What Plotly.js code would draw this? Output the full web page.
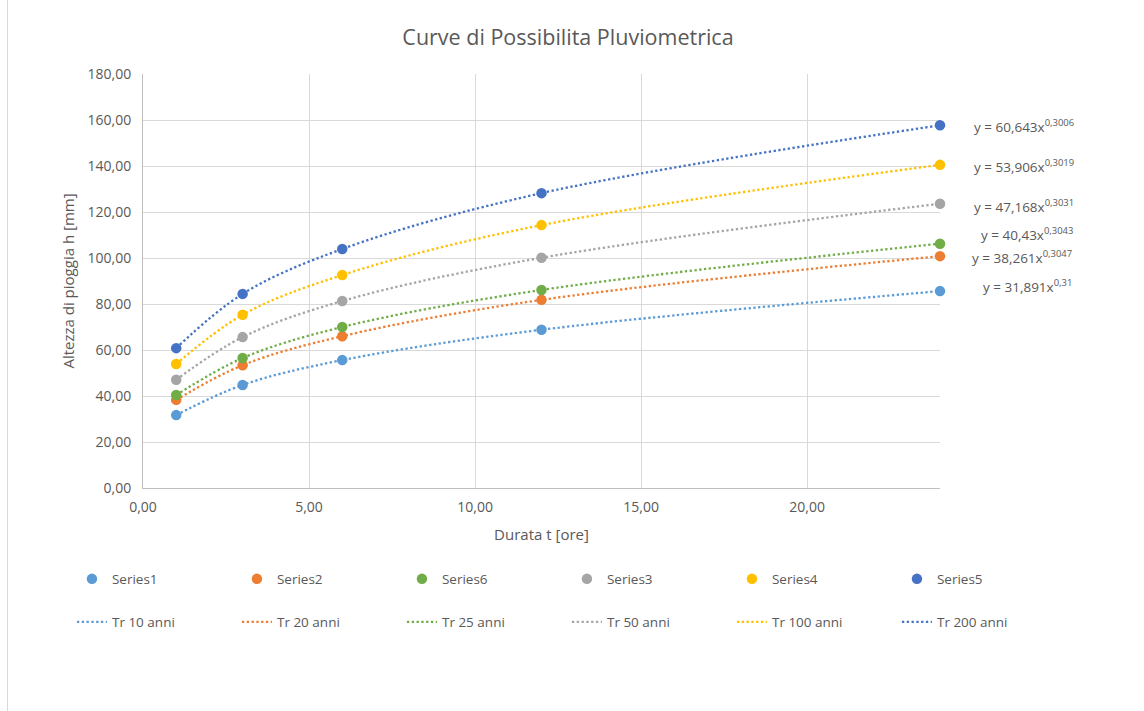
<!DOCTYPE html>
<html>
<head>
<meta charset="utf-8">
<script src="https://cdn.plot.ly/plotly-3.0.1.min.js"></script>
<style>
  html, body { margin: 0; padding: 0; background: #ffffff; }
  #frame { position: absolute; left: 7px; top: 0; width: 1137px; height: 711px; border-left: 1px solid #d9d9d9; }
  #chart { position: absolute; left: 0; top: 0; width: 1144px; height: 711px; }
</style>
</head>
<body>
<div id="frame"></div>
<div id="chart"></div>
<script>
// ---- data ----
const durations = [1, 3, 6, 12, 24];
const series1 = [31.7, 44.8, 55.6, 68.8, 85.6];
const series2 = [38.3, 53.4, 66.0, 81.8, 100.8];
const series6 = [40.4, 56.5, 70.0, 86.1, 106.2];
const series3 = [47.1, 65.6, 81.3, 100.1, 123.6];
const series4 = [53.9, 75.3, 92.6, 114.3, 140.5];
const series5 = [60.8, 84.4, 103.9, 128.2, 157.7];

const markerNames = ['Series1', 'Series2', 'Series6', 'Series3', 'Series4', 'Series5'];
const trendNames = ['Tr 10 anni', 'Tr 20 anni', 'Tr 25 anni', 'Tr 50 anni', 'Tr 100 anni', 'Tr 200 anni'];
const eqCoef = ['60,643', '53,906', '47,168', '40,43', '38,261', '31,891'];
const eqExp = ['0,3006', '0,3019', '0,3031', '0,3043', '0,3047', '0,31'];
const xTickVals = [0, 5, 10, 15, 20];
const yTickVals = [0, 20, 40, 60, 80, 100, 120, 140, 160, 180];

// ---- styling ----
const allSeries = [series1, series2, series6, series3, series4, series5];
const colors = ['#5B9BD5', '#ED7D31', '#70AD47', '#A5A5A5', '#FFC000', '#4472C4'];
const FONT = '"Open Sans", Lato, sans-serif';
const TXT = '#595959';

const traces = [];
allSeries.forEach((s, i) => {
  traces.push({
    x: durations, y: s, type: 'scatter', mode: 'markers', name: markerNames[i],
    marker: { color: colors[i], size: 10.5 }, legend: 'legend', cliponaxis: false
  });
});
allSeries.forEach((s, i) => {
  traces.push({
    x: durations, y: s, type: 'scatter', mode: 'lines', name: trendNames[i],
    line: { color: colors[i], width: 2.3, dash: '2.3px,2.5px', shape: 'spline', smoothing: 1 },
    legend: 'legend2', hoverinfo: 'skip'
  });
});
// keep markers above lines
const ordered = traces.slice(6).concat(traces.slice(0, 6));

// equation label anchors (layout only)
const eqPos = [
  { x: 1.040, y: 157.3 },
  { x: 1.040, y: 140.2 },
  { x: 1.040, y: 122.8 },
  { x: 1.049, y: 110.6 },
  { x: 1.038, y: 100.6 },
  { x: 1.052, y: 88.0 }
];
const annotations = eqCoef.map((c, i) => ({
  xref: 'paper', yref: 'y', x: eqPos[i].x, y: eqPos[i].y,
  xanchor: 'left', yanchor: 'middle', showarrow: false,
  text: 'y = ' + c + 'x<sup>' + eqExp[i] + '</sup>',
  font: { family: FONT, size: 13.5, color: TXT }
}));

const legendCommon = {
  orientation: 'h', x: 1.153, xanchor: 'right', yanchor: 'middle',
  entrywidth: 120, entrywidthmode: 'pixels', traceorder: 'normal',
  font: { family: FONT, size: 13.5, color: TXT }, bgcolor: 'rgba(0,0,0,0)'
};

const layout = {
  width: 1144, height: 711,
  margin: { l: 143, r: 204, t: 74, b: 223, pad: 0 },
  paper_bgcolor: 'rgba(0,0,0,0)', plot_bgcolor: '#ffffff',
  separators: ',.',
  font: { family: FONT, color: TXT, size: 13 },
  title: { text: 'Curve di Possibilita Pluviometrica', x: 0.4965, xref: 'container', xanchor: 'center', y: 0.947, yanchor: 'middle',
           font: { family: FONT, size: 21.5, color: TXT } },
  xaxis: {
    range: [0, 24], tickvals: xTickVals, tickformat: '.2f',
    showgrid: true, gridcolor: '#d9d9d9', gridwidth: 1,
    showline: true, linecolor: '#bfbfbf', linewidth: 1, zeroline: false,
    ticks: '', ticklabelstandoff: 6, tickfont: { family: FONT, size: 14, color: TXT },
    title: { text: 'Durata t [ore]', font: { family: FONT, size: 15, color: TXT }, standoff: 14 },
    fixedrange: true
  },
  yaxis: {
    range: [0, 180], tickvals: yTickVals, tickformat: '.2f',
    showgrid: true, gridcolor: '#d9d9d9', gridwidth: 1,
    showline: true, linecolor: '#bfbfbf', linewidth: 1, zeroline: false,
    ticks: '', ticklabelstandoff: 8, tickfont: { family: FONT, size: 14, color: TXT },
    title: { text: 'Altezza di pioggia h [mm]', font: { family: FONT, size: 15, color: TXT }, standoff: 9 },
    fixedrange: true
  },
  showlegend: true,
  legend: Object.assign({}, legendCommon, { y: -0.22 }),
  legend2: Object.assign({}, legendCommon, { y: -0.324 }),
  annotations: annotations
};

Plotly.newPlot('chart', ordered, layout, { staticPlot: true, displayModeBar: false });
</script>
</body>
</html>
